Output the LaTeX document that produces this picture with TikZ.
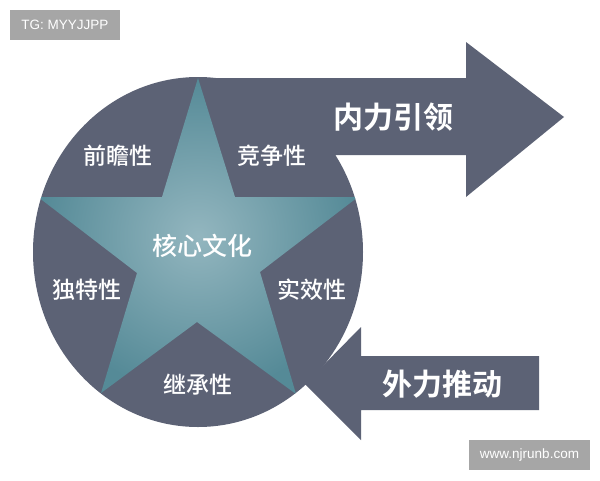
\documentclass[tikz,border=0pt]{standalone}
\usepackage{fontspec}
\setmainfont{Liberation Sans}
\newfontfamily\cjkb{Noto Sans CJK SC Bold}
\newfontfamily\cjkm{Noto Sans CJK SC Medium}
\definecolor{slate}{HTML}{5C6275}
\definecolor{starin}{HTML}{93B6BF}
\definecolor{starout}{HTML}{558A97}
\definecolor{wmgray}{HTML}{A6A6A6}
\tikzset{
  shapefill/.style={fill=slate, draw=none},
  smalllabel/.style={text=white, font=\cjkm\fontsize{23}{23}\selectfont, inner sep=0pt},
  biglabel/.style={text=white, font=\cjkb\fontsize{30}{30}\selectfont, inner sep=0pt},
  corelabel/.style={text=white, font=\cjkm\fontsize{25}{25}\selectfont, inner sep=0pt},
  wmbox/.style={fill=wmgray, text=white, font=\fontsize{13.5}{13.5}\selectfont, inner sep=0pt, anchor=center}
}
\begin{document}
\begin{tikzpicture}[x=1pt,y=-1pt]
\useasboundingbox (0,0) rectangle (600,480);
\fill[white] (0,0) rectangle (600,480);
% top arrow (inner leadership)
\fill[shapefill] (198,78) -- (466,78) -- (466,42) -- (564,117) -- (466,197) -- (466,155) -- (336,155) -- (198,220) -- cycle;
% bottom arrow (external push)
\fill[shapefill] (305,384) -- (361,327) -- (361,356) -- (539,356) -- (539,410) -- (361,410) -- (361,440) -- cycle;
% circle
\fill[shapefill] (198,252) ellipse [x radius=165pt, y radius=175pt];
% star
\begin{scope}
\clip (198,252) ellipse [x radius=165pt, y radius=175pt];
\shade[inner color=starin, outer color=starout]
  (198,78) -- (235,197) -- (358,197) -- (260,272) -- (296,394) -- (197,322)
  -- (101,393) -- (137,273) -- (38,197) -- (162,197) -- cycle;
\end{scope}
% labels
\node[smalllabel] (qian) at (118,156) {前瞻性};
\node[smalllabel] (jing) at (272,156) {竞争性};
\node[corelabel] (core) at (202,246) {核心文化};
\node[smalllabel] (du) at (87,290) {独特性};
\node[smalllabel] (shi) at (312,290) {实效性};
\node[smalllabel] (ji) at (198,385) {继承性};
\node[biglabel] (nei) at (393,117) {内力引领};
\node[biglabel] (wai) at (442,384) {外力推动};
% watermarks
\node[wmbox, minimum width=110pt, minimum height=30pt] (wm1) at (65,25) {TG: MYYJJPP};
\node[wmbox, minimum width=121pt, minimum height=30pt] (wm2) at (529.5,455) {www.njrunb.com};
\end{tikzpicture}
\end{document}
